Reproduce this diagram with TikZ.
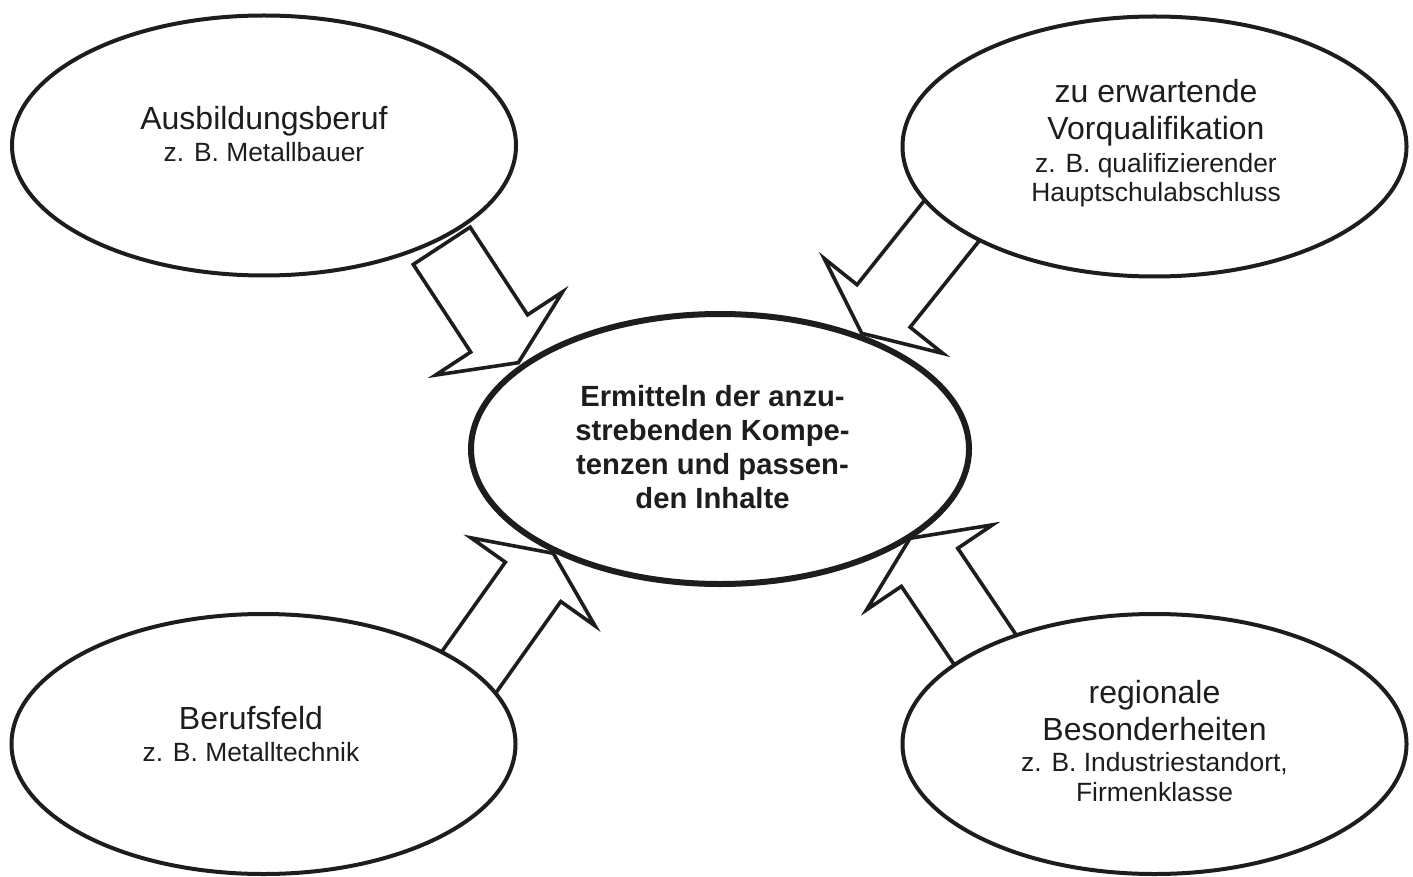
\documentclass[tikz,border=0pt]{standalone}
\usepackage{fontspec}
\setmainfont{Liberation Sans}
\usetikzlibrary{calc,shapes.geometric}

\definecolor{ink}{HTML}{1D1D1B}
\newcommand{\bigsize}{\fontsize{16}{18.5}\selectfont}
\newcommand{\smallsize}{\fontsize{13.2}{14.5}\selectfont}

% outlined block arrow from tail #1 to tip #2
\newcommand{\blockarrow}[2]{%
  \coordinate (ab) at ($(#2)!17.5pt!(#1)$);
  \draw[fatarrow] ($(#1)!17pt!90:(#2)$) -- ($(ab)!17pt!90:(#2)$)
    -- ($(ab)!38pt!90:(#2)$) -- (#2) -- ($(ab)!38pt!-90:(#2)$)
    -- ($(ab)!17pt!-90:(#2)$) -- ($(#1)!17pt!-90:(#2)$) -- cycle;
}

\begin{document}
\begin{tikzpicture}[x=0.5pt, y=-0.5pt,
    bubble/.style={ellipse, draw=ink, line width=2pt, fill=white,
      minimum width=252pt, minimum height=130pt, inner sep=0pt},
    core/.style={bubble, line width=3pt, minimum width=249pt, minimum height=135pt},
    txt/.style={align=center, text=ink, font=\bigsize, inner sep=0pt},
    coretxt/.style={align=center, text=ink, inner sep=0pt,
      font=\bfseries\fontsize{14.6}{17}\selectfont},
    fatarrow/.style={draw=ink, line width=1.8pt, fill=white, line join=miter}]
  \useasboundingbox (0,0) rectangle (1413,877);

  % arrows first, the bubbles cover their ends
  \coordinate (tl-tail) at (441.7,245.8); \coordinate (tl-tip) at (518.3,362.7);
  \coordinate (tr-tail) at (960.8,209.4); \coordinate (tr-tip) at (861.7,333.3);
  \coordinate (bl-tail) at (460.1,684.6); \coordinate (bl-tip) at (553.3,553.3);
  \coordinate (br-tail) at (992,659.9);   \coordinate (br-tip) at (910,538.3);
  \blockarrow{tl-tail}{tl-tip}
  \blockarrow{tr-tail}{tr-tip}
  \blockarrow{bl-tail}{bl-tip}
  \blockarrow{br-tail}{br-tip}

  % bubbles
  \node[bubble] (beruf) at (264,145.5) {};
  \node[bubble] (vorq) at (1154.5,146.5) {};
  \node[bubble] (feld) at (263.5,744) {};
  \node[bubble] (region) at (1154.5,744) {};
  \node[core] (ziel) at (720,449) {};

  % texts
  \node[txt] (beruf-t) at ($(beruf)+(0,-11.5)$)
    {Ausbildungsberuf\\[-2.5pt]{\smallsize z. B. Metallbauer}};
  \node[txt] (vorq-t) at ($(vorq)+(1.5,-3)$)
    {zu erwartende\\Vorqualifikation\\[-2pt]{\smallsize z. B. qualifizierender}\\[-4pt]{\smallsize Hauptschulabschluss}};
  \node[txt] (feld-t) at ($(feld)+(-12.5,-9.5)$)
    {Berufsfeld\\[-2.5pt]{\smallsize z. B. Metalltechnik}};
  \node[txt] (region-t) at ($(region)+(0,-3)$)
    {regionale\\Besonderheiten\\[-3pt]{\smallsize z. B. Industriestandort,}\\[-3.5pt]{\smallsize Firmenklasse}};
  \node[coretxt] (ziel-t) at ($(ziel)+(-7.5,-2)$)
    {Ermitteln der anzu-\\strebenden Kompe-\\tenzen und passen-\\den Inhalte};
\end{tikzpicture}
\end{document}
